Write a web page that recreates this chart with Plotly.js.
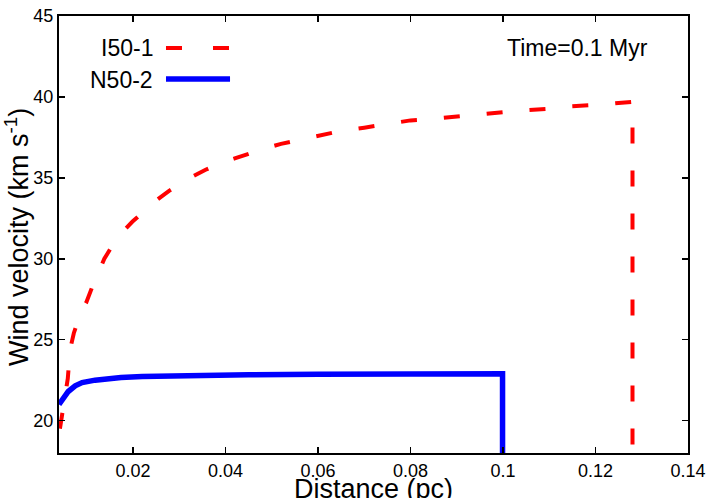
<!DOCTYPE html>
<html>
<head>
<meta charset="utf-8">
<script src="https://cdn.plot.ly/plotly-3.0.1.min.js"></script>
<style>html,body{margin:0;padding:0;background:#fff;}#chart{width:712px;height:498px;}</style>
</head>
<body>
<div id="chart"></div>
<script>
// I50-1 (red dashed)
const i50x = [0.0042, 0.0050, 0.0055, 0.0059, 0.0064, 0.0072, 0.0085, 0.0099, 0.0111, 0.0125, 0.0138, 0.0155, 0.0175, 0.0199, 0.0222, 0.0250, 0.0278, 0.0305, 0.0330, 0.0357, 0.0388, 0.0420, 0.0451, 0.0483, 0.0520, 0.0551, 0.0583, 0.0650, 0.0700, 0.0770, 0.0800, 0.0850, 0.0904, 0.0935, 0.1003, 0.1043, 0.1113, 0.1147, 0.1215, 0.1249, 0.1280, 0.1280];
const i50y = [19.5, 20.9, 21.9, 22.6, 24.4, 25.4, 26.5, 27.3, 28.2, 29.1, 30.0, 30.8, 31.6, 32.3, 32.9, 33.6, 34.2, 34.7, 35.1, 35.5, 35.9, 36.2, 36.5, 36.8, 37.1, 37.3, 37.5, 37.9, 38.1, 38.4, 38.55, 38.65, 38.8, 38.9, 39.05, 39.17, 39.3, 39.42, 39.53, 39.62, 39.7, 17.0];
// N50-2 (blue solid)
const n50x = [0.0040, 0.0050, 0.0060, 0.0075, 0.0090, 0.0118, 0.0150, 0.0174, 0.0220, 0.0276, 0.0350, 0.0450, 0.0600, 0.0800, 0.0999, 0.0999];
const n50y = [21.0, 21.45, 21.8, 22.15, 22.35, 22.5, 22.6, 22.67, 22.73, 22.77, 22.8, 22.83, 22.86, 22.88, 22.9, 17.0];
const seriesNames = ['I50-1', 'N50-2'];
const xTicks = [0.02, 0.04, 0.06, 0.08, 0.1, 0.12, 0.14];
const xTickText = ['0.02', '0.04', '0.06', '0.08', '0.1', '0.12', '0.14'];
const yTicks = [20, 25, 30, 35, 40, 45];
const xTitle = 'Distance (pc)';
const yTitle = 'Wind velocity (km s<sup>-1</sup>)';

const FONT = 'Liberation Sans, Arial, Helvetica, sans-serif';

const traces = [
  {x: i50x, y: i50y, name: seriesNames[0], mode: 'lines', line: {color: '#ff0000', width: 4, dash: '16px,27px'}, showlegend: false},
  {x: n50x, y: n50y, name: seriesNames[1], mode: 'lines', line: {color: '#0000ff', width: 5.5}, showlegend: false}
];

const axisCommon = {
  showgrid: false, zeroline: false, showline: true, linecolor: '#000', linewidth: 2,
  mirror: 'ticks', ticks: 'inside', ticklen: 6, tickwidth: 1.5, tickcolor: '#000',
  tickfont: {family: FONT, size: 18, color: '#000'}
};

const layout = {
  width: 712, height: 498,
  margin: {l: 59, r: 24, t: 16, b: 45},
  paper_bgcolor: '#fff', plot_bgcolor: '#fff',
  font: {family: FONT, color: '#000'},
  xaxis: Object.assign({}, axisCommon, {range: [0.004, 0.14], tickvals: xTicks, ticktext: xTickText}),
  yaxis: Object.assign({}, axisCommon, {range: [18, 45], tickvals: yTicks}),
  shapes: [
    {type: 'line', xref: 'paper', yref: 'paper', x0: 0.1701, x1: 0.2703, y0: 0.9268, y1: 0.9268, line: {color: '#ff0000', width: 4, dash: '16px,31px'}},
    {type: 'line', xref: 'paper', yref: 'paper', x0: 0.1701, x1: 0.2719, y0: 0.8558, y1: 0.8558, line: {color: '#0000ff', width: 5.5}}
  ],
  annotations: [
    {xref: 'paper', yref: 'paper', x: 0.1526, y: 0.9268, xanchor: 'right', yanchor: 'middle', text: seriesNames[0], showarrow: false, font: {family: FONT, size: 23, color: '#000'}},
    {xref: 'paper', yref: 'paper', x: 0.1526, y: 0.8535, xanchor: 'right', yanchor: 'middle', text: seriesNames[1], showarrow: false, font: {family: FONT, size: 23, color: '#000'}},
    {xref: 'paper', yref: 'paper', x: 0.8247, y: 0.9268, xanchor: 'center', yanchor: 'middle', text: 'Time=0.1 Myr', showarrow: false, font: {family: FONT, size: 23, color: '#000'}},
    {xref: 'paper', yref: 'paper', x: 0.5, y: -0.0824, xanchor: 'center', yanchor: 'middle', text: xTitle, showarrow: false, font: {family: FONT, size: 27, color: '#000'}},
    {xref: 'paper', yref: 'paper', x: -0.0668, y: 0.494, xanchor: 'center', yanchor: 'middle', textangle: -90, text: yTitle, showarrow: false, font: {family: FONT, size: 27, color: '#000'}}
  ]
};

Plotly.newPlot('chart', traces, layout, {staticPlot: true, displayModeBar: false});
</script>
</body>
</html>
